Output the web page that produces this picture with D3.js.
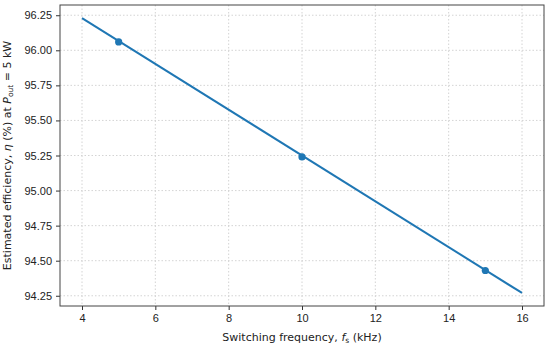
<!DOCTYPE html>
<html>
<head>
<meta charset="utf-8">
<script src="https://cdn.jsdelivr.net/npm/d3@7"></script>
<style>
  body { margin: 0; background: #fff; }
  svg { font-family: "DejaVu Sans", sans-serif; }
  .grid line { stroke: #cfcfcf; stroke-dasharray: 1.5,2; stroke-width: 0.9; }
  .axis text { font-size: 11px; fill: #222; }
  .axis path { display: none; }
  .axis line { stroke: #333; }
</style>
</head>
<body>
<div id="chart"></div>
<script>
// efficiency model line, end points
const lineFreq = [4, 16];
const lineEff = [96.23, 94.27];
// marked operating points
const pointFreq = [5, 10, 15];
const pointEff = [96.06, 95.24, 94.43];
const xTicks = [4, 6, 8, 10, 12, 14, 16];
const yTicks = [94.25, 94.5, 94.75, 95.0, 95.25, 95.5, 95.75, 96.0, 96.25];

const W = 550, H = 346;
const margin = { top: 5, right: 6, bottom: 40, left: 60 };
const width = W - margin.left - margin.right;
const height = H - margin.top - margin.bottom;

const x = d3.scaleLinear().domain([3.4, 16.6]).range([0, width]);
const y = d3.scaleLinear().domain([94.177, 96.323]).range([height, 0]);

const svg = d3.select('#chart').append('svg')
  .attr('width', W).attr('height', H)
  .append('g')
  .attr('transform', 'translate(' + margin.left + ',' + margin.top + ')');

// grid
svg.append('g').attr('class', 'grid')
  .selectAll('line.v').data(xTicks).enter().append('line')
  .attr('x1', d => x(d)).attr('x2', d => x(d))
  .attr('y1', 0).attr('y2', height);
svg.select('.grid')
  .selectAll('line.h').data(yTicks).enter().append('line')
  .attr('y1', d => y(d)).attr('y2', d => y(d))
  .attr('x1', 0).attr('x2', width);

// axes
svg.append('g').attr('class', 'axis')
  .attr('transform', 'translate(0,' + height + ')')
  .call(d3.axisBottom(x).tickValues(xTicks).tickSize(4).tickPadding(4).tickFormat(d3.format('d')));
svg.append('g').attr('class', 'axis')
  .call(d3.axisLeft(y).tickValues(yTicks).tickSize(4).tickPadding(4).tickFormat(d3.format('.2f')));

// line
const lineData = lineFreq.map((f, i) => ({ f: f, e: lineEff[i] }));
svg.append('path')
  .datum(lineData)
  .attr('fill', 'none')
  .attr('stroke', '#1f77b4')
  .attr('stroke-width', 2)
  .attr('d', d3.line().x(d => x(d.f)).y(d => y(d.e)));

svg.selectAll('.pt')
  .data(pointFreq.map((f, i) => ({ f: f, e: pointEff[i] })))
  .enter().append('circle')
  .attr('class', 'pt')
  .attr('cx', d => x(d.f)).attr('cy', d => y(d.e))
  .attr('r', 3.6)
  .attr('fill', '#1f77b4');

// frame
svg.append('rect')
  .attr('width', width).attr('height', height)
  .attr('fill', 'none').attr('stroke', '#444').attr('stroke-width', 1);

// labels
const xl = svg.append('text')
  .attr('x', width / 2).attr('y', height + 35)
  .attr('text-anchor', 'middle')
  .style('font-size', '11px').attr('fill', '#222');
xl.append('tspan').text('Switching frequency, ');
xl.append('tspan').style('font-style', 'italic').text('f');
xl.append('tspan').attr('dy', 2).style('font-size', '7.5px').text('s');
xl.append('tspan').attr('dy', -2).text(' (kHz)');

const yl = svg.append('text')
  .attr('transform', 'translate(' + (-49) + ',' + height / 2 + ') rotate(-90)')
  .attr('text-anchor', 'middle')
  .style('font-size', '11px').attr('fill', '#222');
yl.append('tspan').text('Estimated efficiency, ');
yl.append('tspan').style('font-style', 'italic').text('η');
yl.append('tspan').text(' (%) at ');
yl.append('tspan').style('font-style', 'italic').text('P');
yl.append('tspan').attr('dy', 2).style('font-size', '7.5px').text('out');
yl.append('tspan').attr('dy', -2).text(' = 5 kW');
</script>
</body>
</html>
